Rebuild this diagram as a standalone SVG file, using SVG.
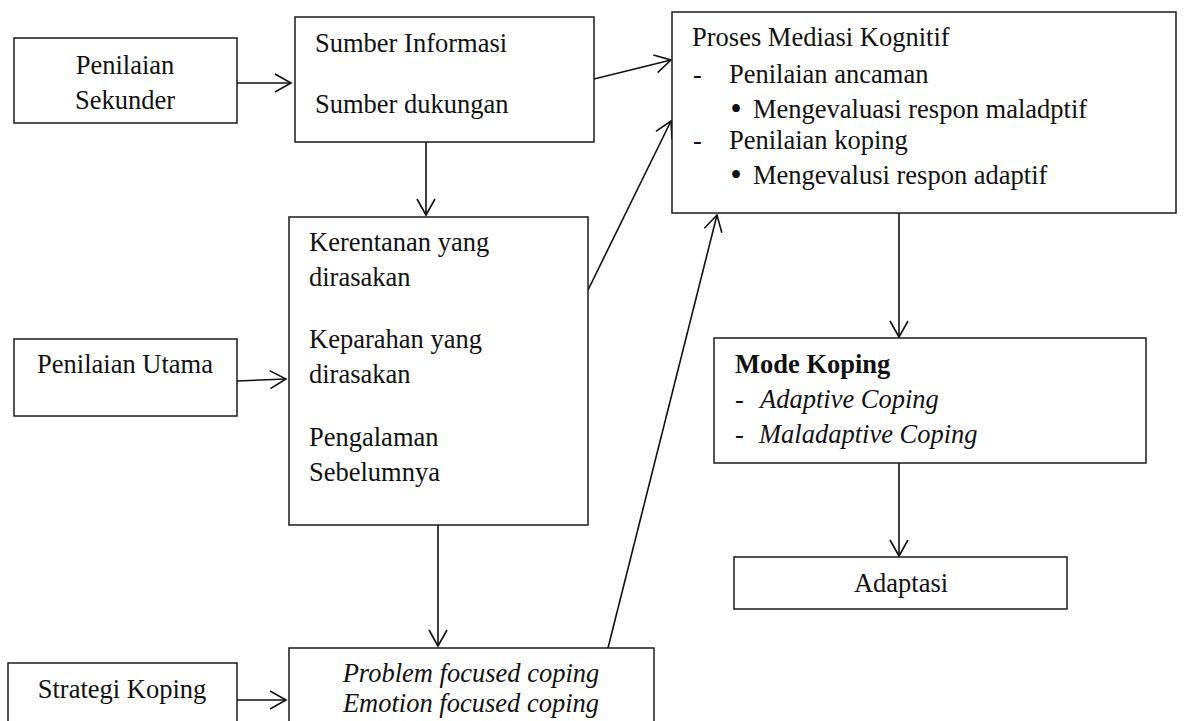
<svg xmlns="http://www.w3.org/2000/svg" width="1184" height="721" viewBox="0 0 1184 721">
<defs>
<style>
.box{fill:#fff;stroke:#1a1a1a;stroke-width:1.5}
.t{font-family:"Liberation Serif","Times New Roman",serif;font-size:26.5px;fill:#111}
.i{font-style:italic}
.b{font-weight:bold}
.c{text-anchor:middle}
.bul{font-size:33px}
.ln{fill:none;stroke:#111;stroke-width:1.6}
</style>
<marker id="ah" markerUnits="userSpaceOnUse" markerWidth="24" markerHeight="24" viewBox="-18 -12 20 24" refX="0" refY="0" orient="auto">
<path d="M-16,-9 L0,0 L-16,9" fill="none" stroke="#111" stroke-width="1.6"/>
</marker>
</defs>
<rect width="1184" height="721" fill="#fff"/>
<g id="connectors">
<line class="ln" x1="237" y1="83" x2="291" y2="83" marker-end="url(#ah)"/>
<line class="ln" x1="426" y1="142" x2="426" y2="215" marker-end="url(#ah)"/>
<line class="ln" x1="237" y1="381" x2="286" y2="379" marker-end="url(#ah)"/>
<line class="ln" x1="438" y1="525" x2="438" y2="646" marker-end="url(#ah)"/>
<line class="ln" x1="236" y1="700" x2="286" y2="700" marker-end="url(#ah)"/>
<line class="ln" x1="594" y1="79" x2="671" y2="60" marker-end="url(#ah)"/>
<line class="ln" x1="588" y1="290" x2="671" y2="121" marker-end="url(#ah)"/>
<line class="ln" x1="608" y1="648" x2="717" y2="215" marker-end="url(#ah)"/>
<line class="ln" x1="899" y1="213" x2="899" y2="337" marker-end="url(#ah)"/>
<line class="ln" x1="899" y1="463" x2="899" y2="556" marker-end="url(#ah)"/>
</g>
<g id="penilaian-sekunder">
<rect class="box" x="14" y="38" width="223" height="85"/>
<text class="t c" x="125" y="74">Penilaian</text>
<text class="t c" x="125" y="109">Sekunder</text>
</g>
<g id="sumber">
<rect class="box" x="295" y="17" width="299" height="125"/>
<text class="t" x="315" y="52">Sumber Informasi</text>
<text class="t" x="315" y="113">Sumber dukungan</text>
</g>
<g id="proses">
<rect class="box" x="672" y="12" width="504" height="201"/>
<text class="t" x="692" y="46">Proses Mediasi Kognitif</text>
<text class="t" x="693" y="83">-</text>
<text class="t" x="729" y="83">Penilaian ancaman</text>
<text class="t c bul" x="736" y="120">•</text>
<text class="t" x="753" y="118">Mengevaluasi respon maladptif</text>
<text class="t" x="693" y="149">-</text>
<text class="t" x="729" y="149">Penilaian koping</text>
<text class="t c bul" x="736" y="186">•</text>
<text class="t" x="753" y="184">Mengevalusi respon adaptif</text>
</g>
<g id="kerentanan">
<rect class="box" x="289" y="217" width="299" height="308"/>
<text class="t" x="309" y="251">Kerentanan yang</text>
<text class="t" x="309" y="286">dirasakan</text>
<text class="t" x="309" y="348">Keparahan yang</text>
<text class="t" x="309" y="383">dirasakan</text>
<text class="t" x="309" y="446">Pengalaman</text>
<text class="t" x="309" y="481">Sebelumnya</text>
</g>
<g id="penilaian-utama">
<rect class="box" x="14" y="339" width="223" height="77"/>
<text class="t c" x="125" y="373">Penilaian Utama</text>
</g>
<g id="mode-koping">
<rect class="box" x="714" y="338" width="432" height="125"/>
<text class="t b" x="735" y="373">Mode Koping</text>
<text class="t" x="735" y="408">-</text>
<text class="t i" x="760" y="408">Adaptive Coping</text>
<text class="t" x="735" y="443">-</text>
<text class="t i" x="759" y="443">Maladaptive Coping</text>
</g>
<g id="adaptasi">
<rect class="box" x="734" y="557" width="333" height="52"/>
<text class="t c" x="901" y="592">Adaptasi</text>
</g>
<g id="strategi-koping">
<rect class="box" x="8" y="663" width="229" height="70"/>
<text class="t c" x="122" y="698">Strategi Koping</text>
</g>
<g id="coping-strategies">
<rect class="box" x="289" y="648" width="365" height="85"/>
<text class="t i c" x="471" y="682">Problem focused coping</text>
<text class="t i c" x="471" y="712">Emotion focused coping</text>
</g>
</svg>
